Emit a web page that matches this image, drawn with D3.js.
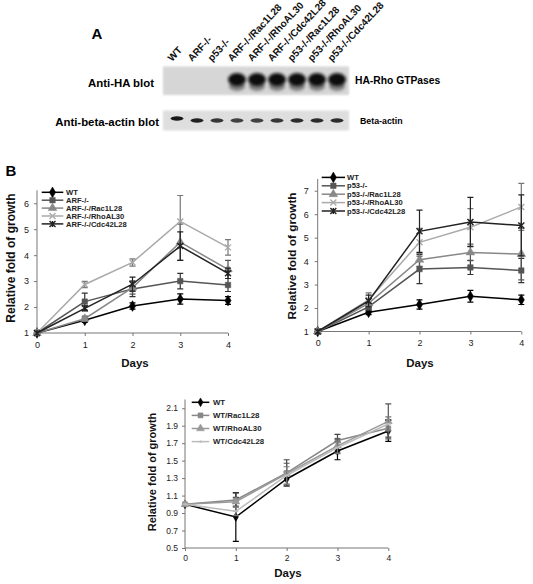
<!DOCTYPE html>
<html><head><meta charset="utf-8">
<script src="https://cdn.jsdelivr.net/npm/d3@7"></script>
<style>body{margin:0;background:#fff}svg{display:block;font-family:"Liberation Sans",Arial,sans-serif}</style>
</head><body><svg id="c" width="533" height="584"></svg>
<script>
// ---------- DATA ----------
const days = [0, 1, 2, 3, 4];

// Panel A (blot)
const lanes = ["WT","ARF-/-","p53-/-","ARF-/-/Rac1L28","ARF-/-/RhoAL30","ARF-/-/Cdc42L28","p53-/-/Rac1L28","p53-/-/RhoAL30","p53-/-/Cdc42L28"];
const haBand = [0, 0, 0, 1, 1, 1, 1, 1, 1];
const actinBand = [0.95, 0.9, 0.8, 0.75, 0.75, 0.8, 0.85, 0.85, 0.85];

// Panel B1: ARF
const arfNames = ["WT","ARF-/-","ARF-/-/Rac1L28","ARF-/-/RhoAL30","ARF-/-/Cdc42L28"];
const arfWT      = [1, 1.49, 2.04, 2.31, 2.25];
const arfNull    = [1, 2.21, 2.70, 3.00, 2.85];
const arfRac1    = [1, 1.55, 2.75, 4.50, 3.45];
const arfRhoA    = [1, 2.87, 3.72, 5.30, 4.30];
const arfCdc42   = [1, 1.95, 2.88, 4.35, 3.30];
const arfWTErr    = [0, 0.08, 0.12, 0.20, 0.15];
const arfNullErr  = [0, 0.33, 0.30, 0.30, 0.25];
const arfRac1Err  = [0, 0.10, 0.25, 0.70, 0.35];
const arfRhoAErr  = [0, 0.12, 0.14, 1.00, 0.30];
const arfCdc42Err = [0, 0.10, 0.27, 0.55, 0.20];
const arfTicks = [1, 2, 3, 4, 5, 6];

// Panel B2: p53
const p53Names = ["WT","p53-/-","p53-/-/Rac1L28","p53-/-/RhoAL30","p53-/-/Cdc42L28"];
const p53WT      = [1, 1.82, 2.15, 2.50, 2.35];
const p53Null    = [1, 2.05, 3.66, 3.73, 3.60];
const p53Rac1    = [1, 2.20, 4.06, 4.37, 4.30];
const p53RhoA    = [1, 2.35, 4.80, 5.44, 6.31];
const p53Cdc42   = [1, 2.30, 5.27, 5.67, 5.52];
const p53WTErr    = [0, 0.10, 0.20, 0.25, 0.20];
const p53NullErr  = [0, 0.15, 0.62, 0.30, 0.52];
const p53Rac1Err  = [0, 0.20, 0.28, 0.35, 1.10];
const p53RhoAErr  = [0, 0.30, 0.60, 0.80, 1.00];
const p53Cdc42Err = [0, 0.25, 0.90, 1.05, 1.30];
const p53Ticks = [1, 2, 3, 4, 5, 6, 7];

// Panel B3: WT
const wtNames = ["WT","WT/Rac1L28","WT/RhoAL30","WT/Cdc42L28"];
const wtWT     = [1, 0.855, 1.29, 1.61, 1.84];
const wtRac1   = [1, 1.05, 1.36, 1.73, 1.87];
const wtRhoA   = [1, 1.03, 1.35, 1.67, 1.95];
const wtCdc42  = [1, 0.92, 1.33, 1.65, 1.92];
const wtWTErr    = [0, 0.28, 0.08, 0.10, 0.12];
const wtRac1Err  = [0, 0.08, 0.15, 0.07, 0.10];
const wtRhoAErr  = [0, 0.05, 0.12, 0.08, 0.20];
const wtCdc42Err = [0, 0.05, 0.10, 0.07, 0.08];
const wtTicks = [0.5, 0.7, 0.9, 1.1, 1.3, 1.5, 1.7, 1.9, 2.1];

// ---------- DRAW ----------
const svg = d3.select("#c");
const defs = svg.append("defs");
defs.append("filter").attr("id","blur2").attr("x","-50%").attr("y","-50%").attr("width","200%").attr("height","200%")
  .append("feGaussianBlur").attr("stdDeviation", 1.6);
defs.append("filter").attr("id","blur1").attr("x","-50%").attr("y","-50%").attr("width","200%").attr("height","200%")
  .append("feGaussianBlur").attr("stdDeviation", 0.7);
defs.append("filter").attr("id","blur3").attr("x","-10%").attr("y","-30%").attr("width","120%").attr("height","160%")
  .append("feGaussianBlur").attr("stdDeviation", 0.8);

// Panel A
svg.append("text").attr("x", 97).attr("y", 39).attr("text-anchor","middle")
  .attr("font-weight","bold").attr("font-size", 15).text("A");
const lx = d3.scalePoint().domain(lanes).range([177, 337]);
const blot = svg.append("g");
blot.append("rect").attr("x",163).attr("y",66.5).attr("width",186).attr("height",28.5).attr("fill","#d6d6d6").attr("filter","url(#blur3)");
blot.append("rect").attr("x",163).attr("y",110.5).attr("width",186).attr("height",20).attr("fill","#dedede").attr("filter","url(#blur3)");
lanes.forEach((l, i) => {
  if (haBand[i] > 0) {
    blot.append("ellipse").attr("cx", lx(l)).attr("cy", 86).attr("rx", 8).attr("ry", 5)
      .attr("fill","#444").attr("opacity",0.6*haBand[i]).attr("filter","url(#blur2)");
    blot.append("ellipse").attr("cx", lx(l)).attr("cy", 79.5).attr("rx", 9).attr("ry", 6.5)
      .attr("fill","#0d0d0d").attr("opacity",haBand[i]).attr("filter","url(#blur2)");
  }
  blot.append("ellipse").attr("cx", lx(l)).attr("cy", i === 0 ? 118.5 : 120.5).attr("rx", 6.5).attr("ry", 2.2)
    .attr("fill","#111").attr("opacity",actinBand[i]).attr("filter","url(#blur1)");
  svg.append("text").attr("transform", `translate(${lx(l)-5},62) rotate(-47)`)
    .attr("font-weight","bold").attr("font-size", 10).attr("fill","#111").text(l);
});
svg.append("text").attr("x",154).attr("y",83.3).attr("dy","0.35em").attr("text-anchor","end")
  .attr("font-weight","bold").attr("font-size",11.4).text("Anti-HA blot");
svg.append("text").attr("x",159).attr("y",121.7).attr("dy","0.35em").attr("text-anchor","end")
  .attr("font-weight","bold").attr("font-size",11.4).text("Anti-beta-actin blot");
svg.append("text").attr("x",355).attr("y",80).attr("dy","0.35em")
  .attr("font-weight","bold").attr("font-size",10.3).text("HA-Rho GTPases");
svg.append("text").attr("x",360).attr("y",121).attr("dy","0.35em")
  .attr("font-weight","bold").attr("font-size",8.8).text("Beta-actin");

svg.append("text").attr("x", 11).attr("y", 176).attr("text-anchor","middle")
  .attr("font-weight","bold").attr("font-size", 15).text("B");

// markers
function marker(g, type, x, y, color, s) {
  if (type === "diamond" || type === "square" || type === "triangle") {
    const sym = type === "diamond" ? d3.symbolDiamond : type === "square" ? d3.symbolSquare : d3.symbolTriangle;
    const area = type === "diamond" ? s*s*1.1 : type === "square" ? s*s : s*s*0.9;
    g.append("path").attr("d", d3.symbol(sym, area)()).attr("transform", `translate(${x},${y})`)
      .attr("fill", color).attr("stroke", color).attr("stroke-width", 0.5);
  } else if (type === "x" || type === "star") {
    const h = s/2;
    let d = `M${-h},${-h}L${h},${h}M${-h},${h}L${h},${-h}`;
    if (type === "star") d += `M0,${-h}L0,${h}`;
    g.append("path").attr("d", d).attr("transform", `translate(${x},${y})`)
      .attr("fill","none").attr("stroke", color).attr("stroke-width", 1.4);
  } else if (type === "dash") {
    g.append("path").attr("d", `M${-s/2},0L${s/2},0M0,-1.2L0,1.2`).attr("transform", `translate(${x},${y})`)
      .attr("fill","none").attr("stroke", color).attr("stroke-width", 1.4);
  }
}

function chart(cfg) {
  const g = svg.append("g");
  const x = d3.scaleLinear().domain([0, 4]).range(cfg.xr);
  const y = d3.scaleLinear().domain(cfg.yd).range(cfg.yr);
  // axes
  const ya = g.append("g").attr("transform", `translate(${cfg.xr[0]},0)`)
    .call(d3.axisLeft(y).tickValues(cfg.ticks).tickSize(3).tickPadding(cfg.yPad).tickFormat(cfg.fmt));
  ya.select(".domain").attr("stroke","#777").attr("d", `M-0,${cfg.yr[1]}V${cfg.yr[0]}`);
  ya.selectAll(".tick line").attr("stroke","#777");
  ya.selectAll("text").attr("font-size", cfg.tickFs).attr("fill","#222").attr("font-family","Liberation Sans, Arial, sans-serif");
  const xa = g.append("g").attr("transform", `translate(0,${cfg.yr[0]})`)
    .call(d3.axisBottom(x).tickValues(days).tickSize(3).tickPadding(cfg.xPad).tickFormat(d3.format("d")));
  xa.select(".domain").attr("stroke","#777").attr("d", `M${cfg.xr[0]},0H${cfg.xr[1]}`);
  xa.selectAll(".tick line").attr("stroke","#777");
  xa.selectAll("text").attr("font-size", cfg.tickFs).attr("fill","#222").attr("font-family","Liberation Sans, Arial, sans-serif");
  // titles
  g.append("text").attr("transform", `translate(${cfg.ylab[0]},${cfg.ylab[1]}) rotate(-90)`)
    .attr("text-anchor","middle").attr("dy","0.35em").attr("font-weight","bold").attr("font-size", cfg.ylabFs)
    .attr("fill","#111").text("Relative fold of growth");
  g.append("text").attr("x", cfg.xlab[0]).attr("y", cfg.xlab[1]).attr("dy","0.35em")
    .attr("text-anchor","middle").attr("font-weight","bold").attr("font-size", cfg.xlabFs).attr("fill","#111").text("Days");
  // series
  const line = d3.line().x((d, i) => x(days[i])).y(d => y(d));
  cfg.series.forEach(s => {
    const sg = g.append("g");
    sg.append("path").attr("d", line(s.v)).attr("fill","none").attr("stroke", s.c).attr("stroke-width", 1.5);
    s.v.forEach((v, i) => {
      const e = s.e[i];
      if (e > 0) {
        const xx = x(days[i]);
        sg.append("path").attr("d", `M${xx},${y(v-e)}V${y(v+e)}M${xx-3},${y(v-e)}H${xx+3}M${xx-3},${y(v+e)}H${xx+3}`)
          .attr("stroke", s.ec).attr("stroke-width", 1.2).attr("fill","none");
      }
      marker(sg, s.m, x(days[i]), y(v), s.c, s.ms);
    });
  });
  // legend
  cfg.series.forEach((s, i) => {
    const ly = cfg.leg.y0 + i * cfg.leg.dy;
    g.append("line").attr("x1", cfg.leg.x1).attr("x2", cfg.leg.x2).attr("y1", ly).attr("y2", ly)
      .attr("stroke", s.c).attr("stroke-width", 1.5);
    marker(g, s.m, (cfg.leg.x1 + cfg.leg.x2) / 2, ly, s.c, s.ms);
    g.append("text").attr("x", cfg.leg.tx).attr("y", ly).attr("dy","0.35em")
      .attr("font-weight","bold").attr("font-size", cfg.leg.fs).attr("fill","#222").text(cfg.names[i]);
  });
}

chart({
  xr: [37, 228], yd: [1, 6.5], yr: [333, 190.3], ticks: arfTicks, fmt: d3.format("d"),
  yPad: 5, xPad: 6, tickFs: 9,
  ylab: [11, 258], ylabFs: 12, xlab: [135, 363], xlabFs: 11.5,
  names: arfNames,
  leg: { y0: 192.3, dy: 7.9, x1: 41.7, x2: 63.3, tx: 66, fs: 7.6 },
  series: [
    { v: arfWT,    e: arfWTErr,    c: "#000",    ec: "#000", m: "diamond",  ms: 5.5 },
    { v: arfNull,  e: arfNullErr,  c: "#555",    ec: "#333", m: "square",   ms: 5.5 },
    { v: arfRac1,  e: arfRac1Err,  c: "#888",    ec: "#555", m: "triangle", ms: 6 },
    { v: arfRhoA,  e: arfRhoAErr,  c: "#aaa",    ec: "#777", m: "x",        ms: 6 },
    { v: arfCdc42, e: arfCdc42Err, c: "#222",    ec: "#222", m: "star",     ms: 6 }
  ]
});

chart({
  xr: [317.7, 521.3], yd: [1, 7.5], yr: [331.5, 179], ticks: p53Ticks, fmt: d3.format("d"),
  yPad: 6, xPad: 5, tickFs: 9,
  ylab: [292, 256], ylabFs: 11.8, xlab: [420, 363], xlabFs: 11.5,
  names: p53Names,
  leg: { y0: 177.4, dy: 8.4, x1: 321.7, x2: 345, tx: 347, fs: 7.6 },
  series: [
    { v: p53WT,    e: p53WTErr,    c: "#000",    ec: "#000", m: "diamond",  ms: 5.5 },
    { v: p53Null,  e: p53NullErr,  c: "#555",    ec: "#333", m: "square",   ms: 5.5 },
    { v: p53Rac1,  e: p53Rac1Err,  c: "#888",    ec: "#555", m: "triangle", ms: 6 },
    { v: p53RhoA,  e: p53RhoAErr,  c: "#aaa",    ec: "#777", m: "x",        ms: 6 },
    { v: p53Cdc42, e: p53Cdc42Err, c: "#222",    ec: "#222", m: "star",     ms: 6 }
  ]
});

chart({
  xr: [185, 388.3], yd: [0.5, 2.2], yr: [548, 399.5], ticks: wtTicks, fmt: d3.format(".1f"),
  yPad: 4, xPad: 4, tickFs: 8.5,
  ylab: [152.5, 472], ylabFs: 11, xlab: [288, 573], xlabFs: 11.5,
  names: wtNames,
  leg: { y0: 402.3, dy: 13.1, x1: 191.7, x2: 209.3, tx: 213, fs: 7.8 },
  series: [
    { v: wtWT,    e: wtWTErr,    c: "#000", ec: "#000", m: "diamond",  ms: 4.5 },
    { v: wtRac1,  e: wtRac1Err,  c: "#888", ec: "#444", m: "square",   ms: 5 },
    { v: wtRhoA,  e: wtRhoAErr,  c: "#999", ec: "#555", m: "triangle", ms: 5.5 },
    { v: wtCdc42, e: wtCdc42Err, c: "#bbb", ec: "#777", m: "dash",     ms: 5 }
  ]
});
</script></body></html>
